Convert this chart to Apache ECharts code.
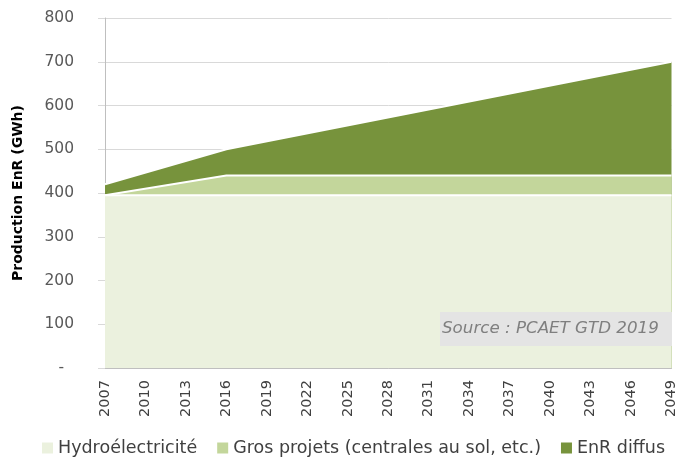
<!DOCTYPE html>
<html>
<head>
<meta charset="utf-8">
<script src="https://cdn.jsdelivr.net/npm/echarts@6/dist/echarts.min.js"></script>
<style>
  html, body { margin: 0; padding: 0; background: #fff; }
  #chart { width: 679px; height: 458px; }
</style>
</head>
<body>
<div id="chart"></div>
<script>
// Renewable energy production (GWh) by source, at the key years of the trajectory
const years = [2007, 2016, 2049];
const hydro = [395, 395, 395];
const grosProjets = [0, 45, 45];
const enrDiffus = [25, 60, 260];

const seriesNames = ['Hydroélectricité', 'Gros projets (centrales au sol, etc.)', 'EnR diffus'];
const seriesColors = ['#EBF1DE', '#C3D69B', '#77933C'];

const sourceText = 'Source : PCAET GTD 2019';

// Running totals, so each band sits on top of the ones below it
const levelHydro = hydro.slice();
const levelGros = hydro.map((v, k) => v + grosProjets[k]);
const levelTotal = levelGros.map((v, k) => v + enrDiffus[k]);

const font = 'DejaVu Sans';

function band(name, color, levels, z) {
  return {
    name: name,
    type: 'line',
    symbol: 'none',
    z: z,
    lineStyle: { color: '#FFFFFF', width: 2 },
    itemStyle: { color: color },
    areaStyle: { color: color, opacity: 1 },
    data: years.map((y, k) => [y, levels[k]])
  };
}

const chart = echarts.init(document.getElementById('chart'));

chart.setOption({
  animation: false,
  textStyle: { fontFamily: font },
  grid: { left: 105, right: 3, top: 18, bottom: 90 },
  legend: {
    top: 434,
    left: 37,
    itemWidth: 11,
    itemHeight: 11,
    itemGap: 20,
    icon: 'rect',
    textStyle: { fontFamily: font, fontSize: 17.5, color: '#404040' },
    data: seriesNames
  },
  xAxis: {
    type: 'value',
    min: 2007,
    max: 2049,
    interval: 3,
    axisLine: { show: true, lineStyle: { color: '#BFBFBF', width: 1 } },
    axisTick: { show: false },
    splitLine: { show: false },
    axisLabel: {
      rotate: 90,
      margin: 12,
      fontSize: 14.5,
      color: '#404040',
      fontFamily: font,
      formatter: v => String(v)
    }
  },
  yAxis: {
    type: 'value',
    min: 0,
    max: 800,
    interval: 100,
    name: 'Production EnR (GWh)',
    nameLocation: 'middle',
    nameGap: 80,
    nameTextStyle: { fontFamily: font, fontSize: 14, fontWeight: 'bold', color: '#000' },
    axisLine: { show: true, lineStyle: { color: '#BFBFBF', width: 1 } },
    axisTick: { show: true, length: 7, lineStyle: { color: '#D9D9D9' } },
    splitLine: { show: true, lineStyle: { color: '#D9D9D9', width: 1 } },
    axisLabel: {
      margin: 31,
      fontSize: 15.5,
      color: '#595959',
      fontFamily: font,
      formatter: v => (v === 0 ? '-  ' : String(v))
    }
  },
  series: [
    band(seriesNames[2], seriesColors[2], levelTotal, 2),
    band(seriesNames[1], seriesColors[1], levelGros, 3),
    band(seriesNames[0], seriesColors[0], levelHydro, 4)
  ],
  graphic: {
    elements: [
      {
        type: 'rect',
        x: 440, y: 312,
        z: 100,
        shape: { x: 0, y: 0, width: 232, height: 34 },
        style: { fill: '#E4E4E4' }
      },
      {
        type: 'text',
        x: 442, y: 329,
        z: 101,
        style: {
          text: sourceText,
          fontFamily: font,
          fontStyle: 'italic',
          fontSize: 16.7,
          fill: '#7F7F7F',
          verticalAlign: 'middle',
          align: 'left'
        }
      }
    ]
  }
});
</script>
</body>
</html>
